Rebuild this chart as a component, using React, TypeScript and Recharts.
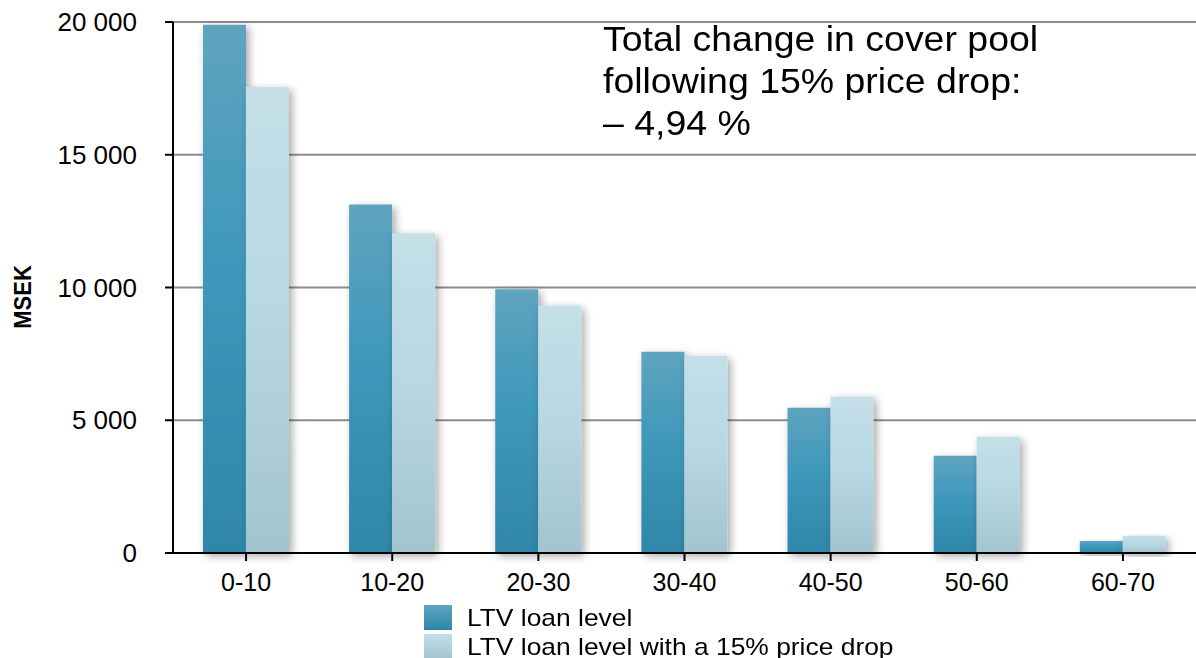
import { BarChart, Bar, XAxis, YAxis, CartesianGrid } from "recharts";

const categories = ["0-10", "10-20", "20-30", "30-40", "40-50", "50-60", "60-70"];
const ltvLevel = [19900, 13130, 9930, 7580, 5470, 3660, 450];
const ltvDrop = [17550, 12040, 9320, 7430, 5890, 4380, 640];
const yTicks = [0, 5000, 10000, 15000, 20000];
const seriesNames = ["LTV loan level", "LTV loan level with a 15% price drop"];
const noteLines = ["Total change in cover pool", "following 15% price drop:", "– 4,94 %"];

const data = categories.map((c, i) => ({
  name: c,
  level: ltvLevel[i],
  drop: ltvDrop[i],
}));

const FONT = "'Liberation Sans', Arial, Helvetica, sans-serif";

const fmt = (v: number) =>
  String(v).replace(/\B(?=(\d{3})+(?!\d))/g, " ");

export default function App() {
  return (
    <div
      style={{
        position: "absolute",
        left: 0,
        top: 0,
        width: 1196,
        height: 658,
        background: "#fff",
        fontFamily: FONT,
        overflow: "hidden",
      }}
    >
      <BarChart
        width={1196}
        height={658}
        data={data}
        margin={{ top: 22, right: 0, bottom: 0, left: 0 }}
        barCategoryGap="20.5%"
        barGap={0}
      >
        <defs>
          <linearGradient id="gDark" x1="0" y1="0" x2="0" y2="1">
            <stop offset="0%" stopColor="#5fa4bf" />
            <stop offset="45%" stopColor="#3e98bb" />
            <stop offset="100%" stopColor="#2f86a9" />
          </linearGradient>
          <linearGradient id="gLight" x1="0" y1="0" x2="0" y2="1">
            <stop offset="0%" stopColor="#c4dfe8" />
            <stop offset="50%" stopColor="#b6d7e2" />
            <stop offset="100%" stopColor="#a2c4cf" />
          </linearGradient>
          <filter id="shadow" x="-30%" y="-10%" width="160%" height="130%">
            <feDropShadow dx="3" dy="3" stdDeviation="4" floodColor="#000" floodOpacity="0.35" />
          </filter>
        </defs>
        <CartesianGrid
          horizontal
          vertical={false}
          stroke="#8c8c8c"
          strokeWidth={2}
        />
        <XAxis
          dataKey="name"
          height={105}
          tickSize={8}
          tickMargin={12}
          axisLine={{ stroke: "#000", strokeWidth: 2 }}
          tickLine={{ stroke: "#000", strokeWidth: 2 }}
          tick={{ fill: "#000", fontSize: 25, fontFamily: FONT }}
          interval={0}
        />
        <YAxis
          width={173}
          domain={[0, 20000]}
          ticks={yTicks}
          tickFormatter={fmt}
          tickSize={8}
          tickMargin={28}
          axisLine={{ stroke: "#000", strokeWidth: 2 }}
          tickLine={{ stroke: "#000", strokeWidth: 2 }}
          tick={{ fill: "#000", fontSize: 26, fontFamily: FONT }}
        />
        <Bar
          dataKey="level"
          name={seriesNames[0]}
          fill="url(#gDark)"
          filter="url(#shadow)"
          isAnimationActive={false}
        />
        <Bar
          dataKey="drop"
          name={seriesNames[1]}
          fill="url(#gLight)"
          filter="url(#shadow)"
          isAnimationActive={false}
        />
      </BarChart>

      {/* axis title, rotated */}
      <div
        style={{
          position: "absolute",
          left: 23,
          top: 297,
          transform: "translate(-50%, -50%) rotate(-90deg) scaleY(1.08)",
          fontWeight: "bold",
          fontSize: 22,
          whiteSpace: "nowrap",
        }}
      >
        MSEK
      </div>

      <div
        style={{
          position: "absolute",
          left: 603,
          top: 18,
          fontSize: 35,
          lineHeight: "42px",
          color: "#000",
          transform: "scaleX(1.07)",
          transformOrigin: "left top",
          whiteSpace: "nowrap",
        }}
      >
        {noteLines.map((l) => (
          <div key={l}>{l}</div>
        ))}
      </div>

      <div style={{ position: "absolute", left: 424, top: 603 }}>
        {seriesNames.map((n, i) => (
          <div
            key={n}
            style={{ display: "flex", alignItems: "center", height: 29 }}
          >
            <span
              style={{
                display: "inline-block",
                width: 28,
                height: 25,
                background:
                  i === 0
                    ? "linear-gradient(#5fa4bf, #2f86a9)"
                    : "linear-gradient(#c4dfe8, #a2c4cf)",
                marginRight: 15,
                flexShrink: 0,
              }}
            />
            <span
              style={{
                fontSize: 24,
                color: "#000",
                whiteSpace: "nowrap",
                display: "inline-block",
                transform: "scaleX(1.1)",
                transformOrigin: "left center",
              }}
            >
              {n}
            </span>
          </div>
        ))}
      </div>
    </div>
  );
}
